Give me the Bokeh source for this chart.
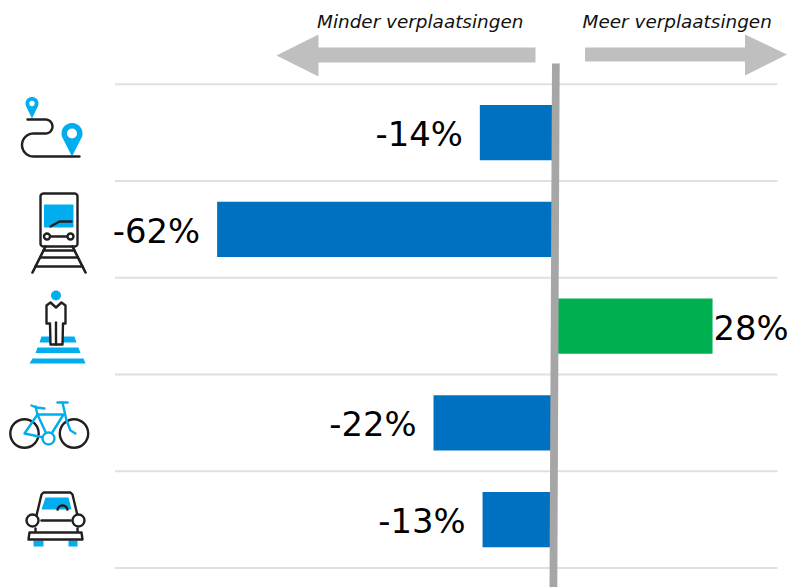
import numpy as np
from bokeh.plotting import figure
from bokeh.models import Range1d
from bokeh.core.properties import value
from bokeh.embed import file_html
from bokeh.resources import INLINE

# --- data ---
modes = ["Totaal", "Trein", "Te voet", "Fiets", "Auto"]
values = [-13.7, -61.9, 29.0, -22.2, -13.2]
labels = ["-14%", "-62%", "28%", "-22%", "-13%"]
bar_colors = ["#0070C0", "#0070C0", "#00B050", "#0070C0", "#0070C0"]
rows = [0.5, 1.5, 2.5, 3.5, 4.5]
grid_rows = [0, 1, 2, 3, 4, 5]
left_title = "Minder verplaatsingen"
right_title = "Meer verplaatsingen"

W, H = 788, 587
PX_PER_PCT = 5.45
ZERO_PX = 554.0
ROW_H = 96.75
TOP_PX = 83.8

p = figure(width=W, height=H, output_backend="svg", toolbar_location=None,
           min_border=0, outline_line_color=None, background_fill_color="white",
           x_range=Range1d(-ZERO_PX / PX_PER_PCT, (W - ZERO_PX) / PX_PER_PCT),
           y_range=Range1d((H - TOP_PX) / ROW_H, -TOP_PX / ROW_H))
p.axis.visible = False
p.grid.visible = False
p.extra_x_ranges["px"] = Range1d(0, W)
p.extra_y_ranges["px"] = Range1d(H, 0)
PX = dict(x_range_name="px", y_range_name="px")

BLUE = "#00AEEF"
INK = "#231F20"


def line(pts, color=INK, w=2.4):
    xs, ys = zip(*pts)
    p.line(list(xs), list(ys), line_color=color, line_width=w, line_join="round", line_cap="round", **PX)


def poly(pts, fill=BLUE, stroke=None, w=2.4):
    xs, ys = zip(*pts)
    p.patch(list(xs), list(ys), fill_color=fill, line_color=stroke, line_width=w, line_join="round", **PX)


def circ(cx, cy, r, fill=BLUE, stroke=None, w=2.4):
    p.circle([cx], [cy], radius=r, fill_color=fill, line_color=stroke, line_width=w, **PX)


def arc(cx, cy, r, a0, a1, n=24):
    t = np.radians(np.linspace(a0, a1, n))
    return list(zip(cx + r * np.cos(t), cy + r * np.sin(t)))


# grid
p.segment(x0=[-(ZERO_PX - 114.5) / PX_PER_PCT] * 6, x1=[(777 - ZERO_PX) / PX_PER_PCT] * 6,
          y0=grid_rows, y1=grid_rows, line_color="#E0E0E0", line_width=2)

# direction arrows
poly([(276, 55), (318, 34), (318, 47), (535, 47), (535, 62), (318, 62), (318, 76)], fill="#BFBFBF")
poly([(786.5, 54), (744.5, 34), (744.5, 47), (584.5, 47), (584.5, 61), (744.5, 61), (744.5, 75)], fill="#BFBFBF")
p.text([419.7], [21], text=[left_title], text_font=value("DejaVu Sans"), text_font_style="italic",
       text_font_size="18.4px", text_align="center", text_baseline="middle", text_color="#111111", **PX)
p.text([676.7], [21], text=[right_title], text_font=value("DejaVu Sans"), text_font_style="italic",
       text_font_size="18.4px", text_align="center", text_baseline="middle", text_color="#111111", **PX)

# bars
p.hbar(y=rows, left=[0] * 5, right=values, height=0.57, fill_color=bar_colors, line_color=None)

# zero line
p.patch([551.5, 559.2, 556.8, 549], [63, 63, 587, 587], fill_color="#A6A6A6", line_color=None, **PX)

# value labels
for v, lab, r in zip(values, labels, rows):
    neg = v < 0
    p.text([v], [r], text=[lab], text_font=value("DejaVu Sans"), text_font_size="33.8px",
           text_align="right" if neg else "left", text_baseline="middle",
           x_offset=-17 if neg else 1, y_offset=2, text_color="#000000")

# icon 1: route
for cx, cy, r, tip, hole in [(31.5, 103, 6.5, 118, 2.7), (71.5, 133, 10.5, 156, 5)]:
    poly(arc(cx, cy, r, 160, 380) + [(cx, tip)])
    circ(cx, cy, hole, fill="white")
line([(27, 119), (45, 119)] + arc(45, 126, 7, -90, 90) + [(33, 133)] + arc(33, 144.5, 11.5, 270, 90) + [(79, 156)])

# icon 2: train
line([(43, 193), (74, 193)] + arc(74, 196, 3, -90, 0) + [(77, 243)] + arc(74, 243, 3, 0, 90) + [(43, 246)] +
     arc(43, 243, 3, 90, 180) + [(40, 196)] + arc(43, 196, 3, 180, 270))
poly([(43.5, 204), (73, 204), (73, 227), (43.5, 227)])
line([(50, 226), (59, 221), (71, 221)])
line([(50, 236), (67, 236)])
circ(46.5, 236, 3, fill="white", stroke=INK)
circ(70, 236, 3, fill="white", stroke=INK)
line([(45, 246), (32, 272)], w=2.6)
line([(72, 246), (85, 272)], w=2.6)
for y, a, b in [(250, 43, 74), (257, 40, 77), (266, 35, 82)]:
    line([(a, y), (b, y)], w=2.6)

# icon 3: pedestrian
poly([(41, 336), (74, 336), (76, 342), (39, 342)])
poly([(37, 347), (78, 347), (80, 352.5), (35, 352.5)])
poly([(32, 358), (83, 358), (85, 363), (29, 363)])
circ(55.5, 295, 5)
poly([(55.5, 307), (50, 302), (46, 305), (46, 323), (49.5, 323), (50, 344), (62, 344), (62.5, 323), (65, 323),
      (65, 305), (61, 302)], fill="white", stroke=INK)
line([(55.5, 322), (55.5, 344)])

# icon 4: bicycle
circ(24, 433, 14.2, fill=None, stroke=INK, w=2.4)
circ(73.5, 433, 14.2, fill=None, stroke=INK, w=2.4)
for seg in [[(37, 414), (63, 414), (48, 438), (37, 414), (24, 433), (48, 438)],
            [(31, 405), (36, 407), (44, 408)], [(35, 406), (37, 414)],
            [(57, 402), (67, 402)], [(62, 402), (66, 420), (70, 430), (75, 433)]]:
    line(seg, color=BLUE, w=2.4)
circ(48, 438, 6, fill="white", stroke=BLUE, w=2.4)

# icon 5: car
poly([(33, 540), (43, 540), (43, 546), (33, 546)])
poly([(68, 540), (77, 540), (77, 546), (68, 546)])
line([(36, 515), (41, 494), (43, 492), (70, 492), (72, 494), (77, 515)])
poly([(45, 497), (68, 497), (71, 509), (41, 509)])
line(arc(62, 510, 5, 190, 350))
line([(35, 528), (35, 532)])
line([(77, 528), (77, 532)])
line([(41, 520), (70, 520)])
circ(32, 520, 6, fill="white", stroke=INK)
circ(78, 520, 6, fill="white", stroke=INK)
poly([(29, 532), (81, 532), (82, 539), (28, 539)], fill="white", stroke=INK)

open("out.html", "w").write(file_html(p, INLINE))
